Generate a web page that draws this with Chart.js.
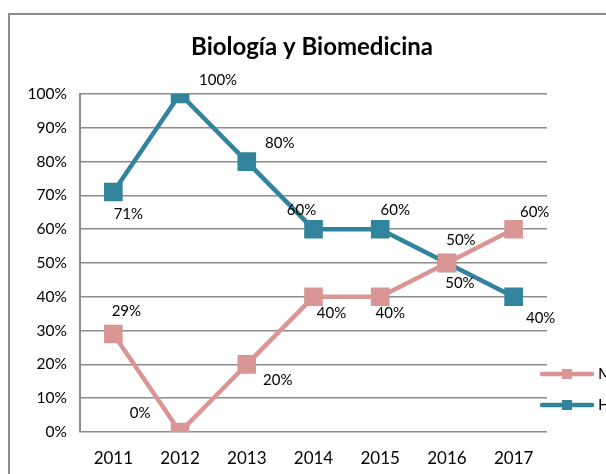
<!DOCTYPE html>
<html><head><meta charset="utf-8">
<script src="https://cdn.jsdelivr.net/npm/chart.js@4/dist/chart.umd.min.js"></script>
<style>html,body{margin:0;padding:0;background:#fff;overflow:hidden}#wrap{width:606px;height:474px;position:relative}</style>
</head><body><div id="wrap"><canvas id="c" width="606" height="474"></canvas></div>
<script>
const years = ['2011','2012','2013','2014','2015','2016','2017'];
const mujeres = [29, 0, 20, 40, 40, 50, 60];
const hombres = [71, 100, 80, 60, 60, 50, 40];
const seriesNames = ['Mujeres', 'Hombres'];
const titleText = 'Biología y Biomedicina';
const FONT = 'Lato, "DejaVu Sans", sans-serif';
const PINK = '#D99694', TEAL = '#31849B';
// label offsets (style only)
const offs = [
  [[13,-23],[-40,-19],[31,16],[18,16],[10,16],[14,-23],[21,-17]],
  [[15,22],[38,-14],[33,-18],[-12,-19],[15,-19],[13,20],[27,21]]
];
const deco = {
  id:'deco',
  beforeDraw(chart){
    const ctx = chart.ctx;
    ctx.save();
    ctx.strokeStyle = '#8c8c8c'; ctx.lineWidth = 2;
    ctx.strokeRect(9, 14, 800, 800);
    ctx.restore();
  },
  afterDatasetsDraw(chart){
    const ctx = chart.ctx;
    ctx.save();
    ctx.fillStyle = '#000';
    ctx.font = 'bold 24px ' + FONT;
    ctx.textAlign = 'center'; ctx.textBaseline = 'middle';
    ctx.fillText(titleText, 312, 47);
    ctx.font = '15px ' + FONT;
    chart.data.datasets.forEach((ds, di) => {
      const meta = chart.getDatasetMeta(di);
      meta.data.forEach((pt, i) => {
        const o = offs[di][i];
        ctx.fillText(ds.data[i] + '%', pt.x + o[0], pt.y + o[1]);
      });
    });
    // legend
    chart.data.datasets.forEach((ds, di) => {
      const y = 374 + di * 31;
      ctx.strokeStyle = ds.borderColor; ctx.lineWidth = 4.5; ctx.lineCap = 'round';
      ctx.beginPath(); ctx.moveTo(542, y); ctx.lineTo(592, y); ctx.stroke();
      ctx.fillStyle = ds.borderColor;
      ctx.fillRect(562, y - 5, 10, 10);
      ctx.fillStyle = '#000'; ctx.textAlign = 'left';
      ctx.font = '16px ' + FONT;
      ctx.fillText(ds.label, 598, y);
    });
    ctx.restore();
  }
};
new Chart(document.getElementById('c'), {
  type: 'line',
  data: {
    labels: years,
    datasets: [
      {label: seriesNames[0], data: mujeres, borderColor: PINK, backgroundColor: PINK, borderWidth: 4.5,
       pointStyle: 'rect', pointRadius: 10, pointHoverRadius: 10, tension: 0},
      {label: seriesNames[1], data: hombres, borderColor: TEAL, backgroundColor: TEAL, borderWidth: 4.5,
       pointStyle: 'rect', pointRadius: 10, pointHoverRadius: 10, tension: 0}
    ]
  },
  options: {
    responsive: false, animation: false,
    layout: {padding: {left: 0, top: 94, right: 59, bottom: 0}},
    plugins: {legend: {display: false}, title: {display: false}, tooltip: {enabled: false}},
    scales: {
      x: {
        offset: true,
        grid: {display: false, drawTicks: false},
        border: {display: false},
        ticks: {color: '#000', font: {family: FONT, size: 17}, padding: 16},
        afterFit(s){ s.height = 42; }
      },
      y: {
        min: 0, max: 100,
        ticks: {stepSize: 10, color: '#000', font: {family: FONT, size: 15.5}, padding: 13,
                callback: v => v + '%'},
        grid: {color: '#8c8c8c', lineWidth: 1.5, drawTicks: false},
        border: {display: true, color: '#8c8c8c', width: 2},
        afterFit(s){ s.width = 80; }
      }
    }
  },
  plugins: [deco]
});
</script></body></html>
